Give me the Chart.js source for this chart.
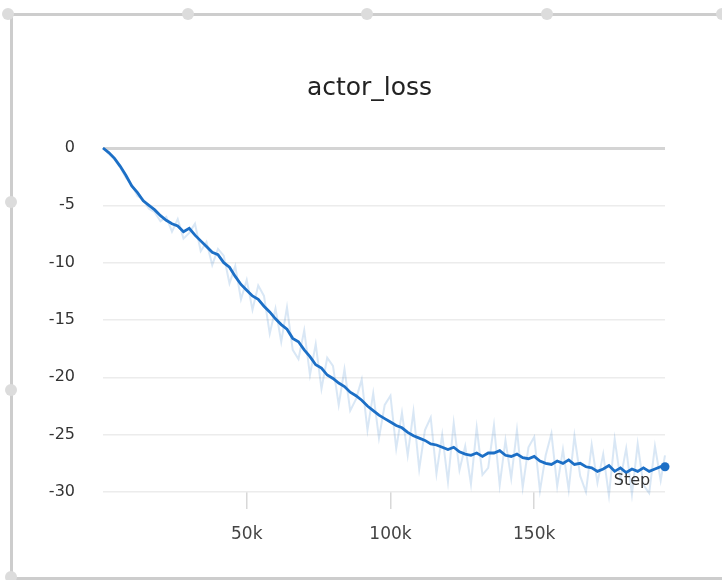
<!DOCTYPE html>
<html>
<head>
<meta charset="utf-8">
<script src="https://cdn.jsdelivr.net/npm/chart.js@4/dist/chart.umd.min.js"></script>
<style>
  html, body { margin: 0; padding: 0; background: #ffffff; }
  #wrap { position: relative; width: 722px; height: 580px; overflow: hidden; background: #fff; }
  #frame { position: absolute; left: 10px; top: 13px; width: 760px; height: 561px;
           border-top: 3px solid #cdcdcd; border-left: 3px solid #cdcdcd; border-bottom: 3px solid #cdcdcd; }
  .h { position: absolute; width: 12px; height: 12px; border-radius: 50%; background: #dcdcdc; }
  canvas { position: absolute; left: 0; top: 0; }
</style>
</head>
<body>
<div id="wrap">
  <div id="frame"></div>
  <div class="h" style="left:2px;top:8px"></div>
  <div class="h" style="left:182px;top:8px"></div>
  <div class="h" style="left:361px;top:8px"></div>
  <div class="h" style="left:541px;top:8px"></div>
  <div class="h" style="left:716px;top:8px"></div>
  <div class="h" style="left:5px;top:196px"></div>
  <div class="h" style="left:5px;top:384px"></div>
  <div class="h" style="left:5px;top:571px"></div>
  <canvas id="c" width="722" height="580"></canvas>
</div>
<script>
const chartTitle = "actor_loss";
const xAxisLabel = "Step";

const steps = [
  0, 2000, 4000, 6000, 8000, 10000, 12000, 14000, 16000, 18000,
  20000, 22000, 24000, 26000, 28000, 30000, 32000, 34000, 36000, 38000,
  40000, 42000, 44000, 46000, 48000, 50000, 52000, 54000, 56000, 58000,
  60000, 62000, 64000, 66000, 68000, 70000, 72000, 74000, 76000, 78000,
  80000, 82000, 84000, 86000, 88000, 90000, 92000, 94000, 96000, 98000,
  100000, 102000, 104000, 106000, 108000, 110000, 112000, 114000, 116000, 118000,
  120000, 122000, 124000, 126000, 128000, 130000, 132000, 134000, 136000, 138000,
  140000, 142000, 144000, 146000, 148000, 150000, 152000, 154000, 156000, 158000,
  160000, 162000, 164000, 166000, 168000, 170000, 172000, 174000, 176000, 178000,
  180000, 182000, 184000, 186000, 188000, 190000, 192000, 194000, 195500
];

const smoothed = [
  0, -0.4, -0.9, -1.6, -2.4, -3.3, -3.9, -4.6, -5.0, -5.4,
  -5.9, -6.3, -6.6, -6.8, -7.3, -7.0, -7.6, -8.1, -8.6, -9.1,
  -9.3, -10.0, -10.4, -11.2, -11.9, -12.4, -12.9, -13.2, -13.8, -14.3,
  -14.9, -15.4, -15.8, -16.6, -16.9, -17.6, -18.2, -18.9, -19.2, -19.8,
  -20.1, -20.5, -20.8, -21.3, -21.6, -22.0, -22.5, -22.9, -23.3, -23.6,
  -23.9, -24.2, -24.4, -24.8, -25.1, -25.3, -25.5, -25.8, -25.9, -26.1,
  -26.3, -26.1, -26.5, -26.7, -26.8, -26.6, -26.9, -26.6, -26.6, -26.4,
  -26.8, -26.9, -26.7, -27.0, -27.1, -26.9, -27.3, -27.5, -27.6, -27.3,
  -27.5, -27.2, -27.6, -27.5, -27.8, -27.9, -28.2, -28.0, -27.7, -28.2,
  -27.9, -28.3, -28.0, -28.2, -27.9, -28.2, -28.0, -27.8, -27.8
];

const raw = [
  0, -0.5, -1.0, -1.7, -2.6, -3.2, -4.2, -4.5, -5.3, -5.6,
  -6.4, -6.0, -7.3, -6.2, -7.9, -7.4, -6.6, -9.0, -8.2, -10.2,
  -8.8, -9.4, -11.8, -10.3, -13.2, -11.5, -14.1, -12.0, -12.9, -16.2,
  -14.0, -16.9, -13.9, -17.6, -18.4, -15.9, -19.8, -17.1, -21.0, -18.3,
  -19.0, -22.4, -19.3, -22.9, -21.9, -20.2, -24.6, -21.4, -25.3, -22.4,
  -21.6, -26.2, -23.1, -26.8, -23.0, -28.0, -24.6, -23.5, -28.4, -25.0,
  -29.1, -24.0, -28.1, -26.0, -29.3, -24.4, -28.5, -27.9, -24.2, -29.4,
  -25.5, -28.8, -24.6, -29.6, -26.1, -25.2, -29.9, -26.8, -24.9, -29.5,
  -26.3, -29.8, -25.1, -28.6, -30.0, -25.9, -29.2, -26.7, -30.3, -25.4,
  -28.9, -26.2, -30.2, -25.8, -29.4, -30.1, -26.0, -29.0, -26.8
];

const yMin = -30, yMax = 0, yStep = 5;
const xTicks = [50000, 100000, 150000];

const smoothPts = steps.map((s, i) => ({ x: s, y: smoothed[i] }));
const rawPts = steps.map((s, i) => ({ x: s, y: raw[i] }));
const lastIdx = steps.length - 1;

const textDecor = {
  id: 'textDecor',
  afterDatasetsDraw(chart) {
    const { ctx, chartArea } = chart;
    ctx.save();
    ctx.font = '16px "DejaVu Sans"';
    ctx.fillStyle = '#333';
    ctx.textAlign = 'center';
    ctx.textBaseline = 'middle';
    ctx.fillText(xAxisLabel, chartArea.right - 33, chartArea.bottom - 11);
    ctx.font = '25px "DejaVu Sans"';
    ctx.fillStyle = '#222';
    ctx.fillText(chartTitle, 369.5, 88);
    ctx.restore();
  }
};

new Chart(document.getElementById('c'), {
  type: 'line',
  data: {
    datasets: [
      {
        data: smoothPts,
        borderColor: '#1c6fc6',
        borderWidth: 2.8,
        tension: 0,
        pointRadius: ctx => ctx.dataIndex === lastIdx ? 4.5 : 0,
        pointBackgroundColor: '#1c6fc6',
        pointBorderWidth: 0,
        clip: false
      },
      {
        data: rawPts,
        borderColor: 'rgba(28,111,198,0.17)',
        borderWidth: 2,
        tension: 0,
        pointRadius: 0,
        clip: false
      }
    ]
  },
  options: {
    responsive: false,
    animation: false,
    events: [],
    layout: { padding: { left: 20, right: 57, top: 148, bottom: 28 } },
    plugins: {
      legend: { display: false },
      tooltip: { enabled: false },
      title: { display: false }
    },
    scales: {
      x: {
        type: 'linear',
        min: steps[0],
        max: steps[lastIdx],
        afterFit: s => { s.height = 60; },
        afterBuildTicks: s => { s.ticks = xTicks.map(v => ({ value: v })); },
        border: { display: false },
        grid: { drawOnChartArea: false, drawTicks: true, tickLength: 17, color: '#d8d8d8', lineWidth: 1.5 },
        ticks: {
          padding: 15,
          color: '#444',
          font: { family: 'DejaVu Sans', size: 17 },
          maxRotation: 0,
          callback: v => (v / 1000) + 'k'
        }
      },
      y: {
        min: yMin,
        max: yMax,
        afterFit: s => { s.width = 83; },
        border: { display: false },
        grid: {
          drawTicks: false,
          color: c => c.tick && c.tick.value === 0 ? '#d4d4d4' : '#ececec',
          lineWidth: c => c.tick && c.tick.value === 0 ? 3 : 1.5
        },
        ticks: {
          stepSize: yStep,
          autoSkip: false,
          padding: 28,
          color: '#333',
          font: { family: 'DejaVu Sans', size: 16 },
          callback: v => String(v)
        }
      }
    }
  },
  plugins: [textDecor]
});
</script>
</body>
</html>
